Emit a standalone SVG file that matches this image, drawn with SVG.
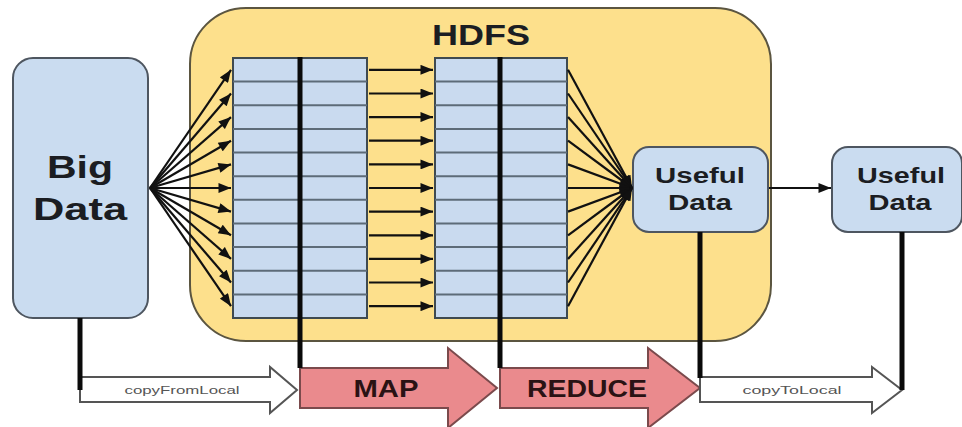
<svg xmlns="http://www.w3.org/2000/svg" width="962" height="427" viewBox="0 0 962 427">
<style>
.lbl{font-family:"Liberation Sans",Arial,sans-serif;font-weight:bold;fill:#1b1d22;text-anchor:middle}
.dark{fill:#2a1214}
.small{font-family:"Liberation Sans",Arial,sans-serif;font-size:11px;fill:#555;text-anchor:middle}
.box{fill:#cadcf0;stroke:#4e5660;stroke-width:2}
.grid{fill:#c9daef;stroke:#3f4a50;stroke-width:2}
.row{stroke:#5d6b78;stroke-width:2}
.thick{stroke:#0a0a0a;stroke-width:5}
.fan{stroke:#111;stroke-width:2.2;fill:none}
.big{fill:#ea8a8d;stroke:#7b4a4c;stroke-width:2}
.out{fill:#fff;stroke:#555;stroke-width:2}
</style>
<defs>
<marker id="ah" viewBox="0 0 10 8" refX="10" refY="4" markerWidth="14" markerHeight="10" markerUnits="userSpaceOnUse" orient="auto">
<path d="M0,0 L10,4 L0,8 z" fill="#111"/>
</marker>
</defs>
<rect width="962" height="427" fill="#ffffff"/>
<g id="hdfs">
<rect x="190" y="8" width="581" height="333" rx="56" ry="56" fill="#fde08c" stroke="#5b5540" stroke-width="2"/>
<text class="lbl" x="481" y="45" font-size="29" textLength="98" lengthAdjust="spacingAndGlyphs">HDFS</text>
</g>
<g id="bigdata">
<rect class="box" x="13" y="58" width="135" height="260" rx="20" ry="20"/>
<text class="lbl" x="80" y="178" font-size="32" textLength="66" lengthAdjust="spacingAndGlyphs">Big</text>
<text class="lbl" x="80" y="220" font-size="32" textLength="94" lengthAdjust="spacingAndGlyphs">Data</text>
</g>
<g id="grid1">
<rect class="grid" x="233" y="58" width="134" height="260"/>
<g class="row">
<line x1="233" y1="81.6" x2="367" y2="81.6"/><line x1="233" y1="105.3" x2="367" y2="105.3"/><line x1="233" y1="128.9" x2="367" y2="128.9"/><line x1="233" y1="152.5" x2="367" y2="152.5"/><line x1="233" y1="176.2" x2="367" y2="176.2"/><line x1="233" y1="199.8" x2="367" y2="199.8"/><line x1="233" y1="223.5" x2="367" y2="223.5"/><line x1="233" y1="247.1" x2="367" y2="247.1"/><line x1="233" y1="270.7" x2="367" y2="270.7"/><line x1="233" y1="294.4" x2="367" y2="294.4"/>
</g>
</g>
<g id="grid2">
<rect class="grid" x="435" y="58" width="132" height="260"/>
<g class="row">
<line x1="435" y1="81.6" x2="567" y2="81.6"/><line x1="435" y1="105.3" x2="567" y2="105.3"/><line x1="435" y1="128.9" x2="567" y2="128.9"/><line x1="435" y1="152.5" x2="567" y2="152.5"/><line x1="435" y1="176.2" x2="567" y2="176.2"/><line x1="435" y1="199.8" x2="567" y2="199.8"/><line x1="435" y1="223.5" x2="567" y2="223.5"/><line x1="435" y1="247.1" x2="567" y2="247.1"/><line x1="435" y1="270.7" x2="567" y2="270.7"/><line x1="435" y1="294.4" x2="567" y2="294.4"/>
</g>
</g>
<g id="useful1">
<rect class="box" x="633" y="147" width="135" height="85" rx="16" ry="16"/>
<text class="lbl" x="700" y="183" font-size="22" textLength="90" lengthAdjust="spacingAndGlyphs">Useful</text>
<text class="lbl" x="700" y="210" font-size="22" textLength="64" lengthAdjust="spacingAndGlyphs">Data</text>
</g>
<g id="useful2">
<rect class="box" x="832" y="147" width="130" height="85" rx="16" ry="16"/>
<text class="lbl" x="901" y="183" font-size="22" textLength="88" lengthAdjust="spacingAndGlyphs">Useful</text>
<text class="lbl" x="900" y="210" font-size="22" textLength="63" lengthAdjust="spacingAndGlyphs">Data</text>
</g>
<g id="copyFromLocal">
<path class="out" d="M80,377 L270,377 L270,367 L297,390 L270,413 L270,402 L80,402 z"/>
<text class="small" x="182" y="394" textLength="115" lengthAdjust="spacingAndGlyphs">copyFromLocal</text>
</g>
<g id="map">
<path class="big" d="M300,368 L448,368 L448,348 L497,388 L448,428 L448,408 L300,408 z"/>
<text class="lbl dark" x="386" y="397" font-size="24" textLength="65" lengthAdjust="spacingAndGlyphs">MAP</text>
</g>
<g id="reduce">
<path class="big" d="M500,368 L648,368 L648,348 L700,388 L648,428 L648,408 L500,408 z"/>
<text class="lbl dark" x="587" y="397" font-size="24" textLength="120" lengthAdjust="spacingAndGlyphs">REDUCE</text>
</g>
<g id="copyToLocal">
<path class="out" d="M700,377 L872,377 L872,367 L902,390 L872,413 L872,402 L700,402 z"/>
<text class="small" x="792" y="394" textLength="99" lengthAdjust="spacingAndGlyphs">copyToLocal</text>
</g>
<g id="connectors">
<g class="fan" marker-end="url(#ah)">
<line x1="150" y1="188" x2="231" y2="69.8"/><line x1="150" y1="188" x2="231" y2="93.5"/><line x1="150" y1="188" x2="231" y2="117.1"/><line x1="150" y1="188" x2="231" y2="140.7"/><line x1="150" y1="188" x2="231" y2="164.4"/><line x1="150" y1="188" x2="231" y2="188"/><line x1="150" y1="188" x2="231" y2="211.6"/><line x1="150" y1="188" x2="231" y2="235.3"/><line x1="150" y1="188" x2="231" y2="258.9"/><line x1="150" y1="188" x2="231" y2="282.5"/><line x1="150" y1="188" x2="231" y2="306.2"/>
</g>
<g class="fan" marker-end="url(#ah)">
<line x1="369" y1="69.8" x2="433" y2="69.8"/><line x1="369" y1="93.5" x2="433" y2="93.5"/><line x1="369" y1="117.1" x2="433" y2="117.1"/><line x1="369" y1="140.7" x2="433" y2="140.7"/><line x1="369" y1="164.4" x2="433" y2="164.4"/><line x1="369" y1="188" x2="433" y2="188"/><line x1="369" y1="211.6" x2="433" y2="211.6"/><line x1="369" y1="235.3" x2="433" y2="235.3"/><line x1="369" y1="258.9" x2="433" y2="258.9"/><line x1="369" y1="282.5" x2="433" y2="282.5"/><line x1="369" y1="306.2" x2="433" y2="306.2"/>
</g>
<g class="fan" marker-end="url(#ah)">
<line x1="568" y1="69.8" x2="632" y2="188"/><line x1="568" y1="93.5" x2="632" y2="188"/><line x1="568" y1="117.1" x2="632" y2="188"/><line x1="568" y1="140.7" x2="632" y2="188"/><line x1="568" y1="164.4" x2="632" y2="188"/><line x1="568" y1="188" x2="632" y2="188"/><line x1="568" y1="211.6" x2="632" y2="188"/><line x1="568" y1="235.3" x2="632" y2="188"/><line x1="568" y1="258.9" x2="632" y2="188"/><line x1="568" y1="282.5" x2="632" y2="188"/><line x1="568" y1="306.2" x2="632" y2="188"/>
</g>
<line class="fan" x1="769" y1="188" x2="831" y2="188" marker-end="url(#ah)"/>
<line class="thick" x1="300" y1="57" x2="300" y2="368"/>
<line class="thick" x1="500" y1="57" x2="500" y2="368"/>
<line class="thick" x1="80" y1="318" x2="80" y2="390"/>
<line class="thick" x1="700" y1="232" x2="700" y2="378"/>
<line class="thick" x1="902" y1="232" x2="902" y2="390"/>
</g>
</svg>
